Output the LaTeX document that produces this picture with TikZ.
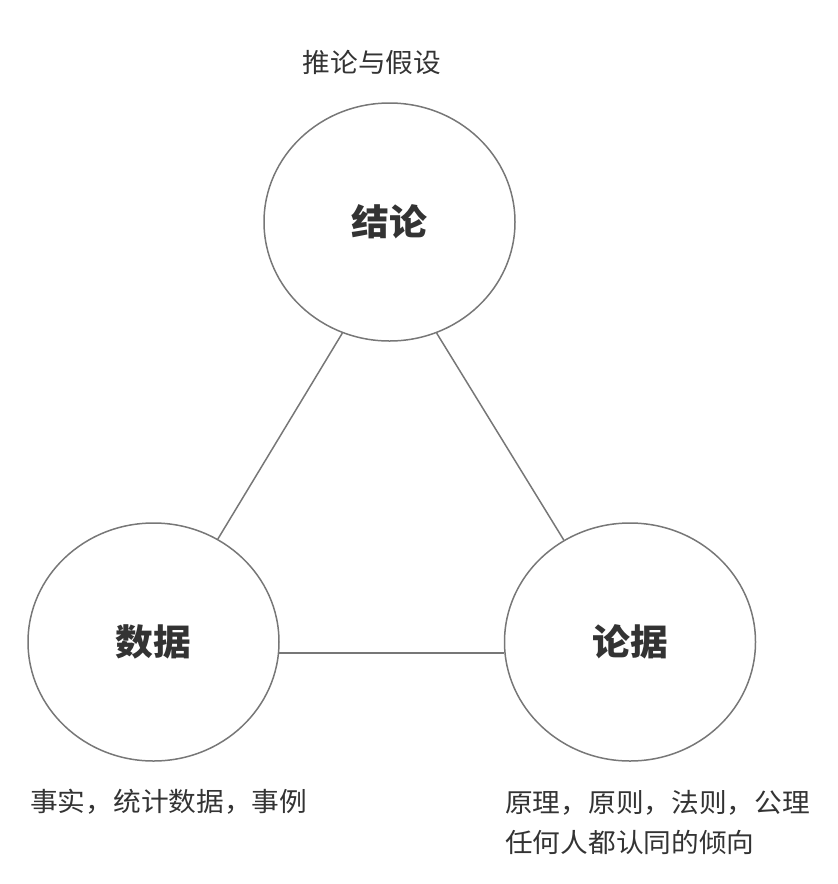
\documentclass[tikz,border=0pt]{standalone}
\usepackage{fontspec}
\setmainfont{Noto Sans CJK SC}[FakeStretch=1.05]
\usetikzlibrary{shapes.geometric}
\definecolor{ringgray}{HTML}{777777}
\definecolor{txtgray}{HTML}{333333}

\begin{document}
\begin{tikzpicture}[x=1pt,y=-1pt,
    circ/.style={ellipse, draw=ringgray, line width=1.5pt, minimum width=251pt,
                 minimum height=238pt, inner sep=0pt, text=txtgray,
                 font=\fontsize{36}{40}\selectfont\bfseries},
    lbl/.style={inner sep=0pt, text=txtgray, font=\fontsize{26.4}{40}\selectfont},
    link/.style={draw=ringgray, line width=1.5pt}]
        \useasboundingbox (0,0) rectangle (838,884);
        % Tres cercles
        \node[circ] (concl) at (389.5,222) {结论};
        \node[circ] (data)  at (153.5,642) {数据};
        \node[circ] (warr)  at (630,642)   {论据};
        % Costats del triangle
        \draw[link] (concl.247) -- (data.58);
        \draw[link] (concl.293) -- (warr.123);
        \draw[link] (data.-5) -- (warr.185);
        % Etiquetes
        \node[lbl] (conclnote) at (372,62) {推论与假设};
        \node[lbl, anchor=west] (datanote) at (30,802) {事实，统计数据，事例};
        \node[lbl, anchor=west, align=left] (warrnote) at (505,822)
            {原理，原则，法则，公理\\任何人都认同的倾向};
    \end{tikzpicture}
\end{document}
